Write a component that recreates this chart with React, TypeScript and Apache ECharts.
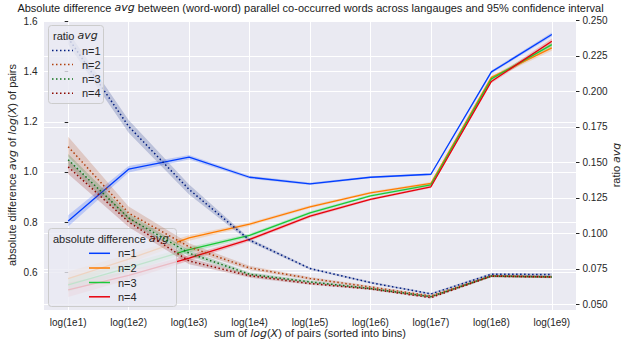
import React, { useEffect, useRef } from 'react';
import * as echarts from 'echarts';

// Bins on the x axis
const categories = [
  'log(1e1)', 'log(1e2)', 'log(1e3)', 'log(1e4)', 'log(1e5)',
  'log(1e6)', 'log(1e7)', 'log(1e8)', 'log(1e9)',
];
const nLabels = ['n=1', 'n=2', 'n=3', 'n=4'];

// Absolute difference avg (left axis) and 95% CI half-widths
const absN1 = [0.805, 1.011, 1.059, 0.979, 0.953, 0.979, 0.991, 1.399, 1.548];
const absN2 = [0.575, 0.653, 0.737, 0.792, 0.861, 0.917, 0.955, 1.377, 1.495];
const absN3 = [0.55, 0.619, 0.69, 0.747, 0.837, 0.905, 0.949, 1.371, 1.508];
const absN4 = [0.53, 0.588, 0.657, 0.731, 0.824, 0.891, 0.941, 1.361, 1.521];
const absCiN1 = [0.022, 0.013, 0.009, 0.006, 0.005, 0.004, 0.004, 0.006, 0.008];
const absCiN2 = [0.028, 0.018, 0.011, 0.007, 0.006, 0.005, 0.005, 0.007, 0.012];
const absCiN3 = [0.028, 0.018, 0.011, 0.007, 0.006, 0.005, 0.005, 0.007, 0.011];
const absCiN4 = [0.028, 0.018, 0.011, 0.007, 0.006, 0.005, 0.005, 0.007, 0.011];

// Ratio avg (right axis) and 95% CI half-widths
const ratioN1 = [0.2375, 0.1753, 0.1309, 0.0952, 0.0752, 0.0653, 0.0573, 0.0712, 0.071];
const ratioN2 = [0.161, 0.1143, 0.0905, 0.0756, 0.0682, 0.0622, 0.0559, 0.07, 0.0694];
const ratioN3 = [0.1518, 0.1108, 0.086, 0.0712, 0.0658, 0.0611, 0.0554, 0.0699, 0.0693];
const ratioN4 = [0.1468, 0.108, 0.0805, 0.0701, 0.0646, 0.0608, 0.0547, 0.0698, 0.0692];
const ratioCiN1 = [0.0045, 0.0045, 0.0035, 0.0013, 0.0008, 0.0007, 0.0006, 0.0008, 0.0008];
const ratioCiN2 = [0.007, 0.0045, 0.0025, 0.0015, 0.001, 0.0008, 0.0007, 0.0008, 0.0009];
const ratioCiN3 = [0.004, 0.003, 0.002, 0.0012, 0.0009, 0.0007, 0.0006, 0.0008, 0.0008];
const ratioCiN4 = [0.005, 0.0035, 0.0022, 0.0013, 0.0009, 0.0007, 0.0006, 0.0008, 0.0008];

// Tick values
const xTicks = [0, 1, 2, 3, 4, 5, 6, 7, 8];
const leftTicks = [0.6, 0.8, 1.0, 1.2, 1.4, 1.6];
const rightTicks = [0.05, 0.075, 0.1, 0.125, 0.15, 0.175, 0.2, 0.225, 0.25];

const solidColors = ['#023EFF', '#FF7C00', '#1AC938', '#E8000B'];
const dottedColors = ['#001C7F', '#B1400D', '#12711C', '#8C0800'];

const FONT = '"Liberation Sans", Arial, sans-serif';
const MATH = '"DejaVu Sans", sans-serif';
const INK = '#262626';
const DOTS = [1.5, 2.5];

function hexToRgba(hex: string, a: number) {
  const n = parseInt(hex.slice(1), 16);
  return `rgba(${(n >> 16) & 255},${(n >> 8) & 255},${n & 255},${a})`;
}

function bandSeries(values: number[], ci: number[], color: string, yAxisIndex: number, z: number) {
  const data = values.map((v, i) => [i, v - ci[i], v + ci[i]]);
  return {
    type: 'custom',
    yAxisIndex,
    z,
    silent: true,
    data,
    encode: { x: 0, y: [1, 2] },
    renderItem: (params: any, api: any) => {
      if (params.dataIndex !== 0) return null;
      const upper = data.map((d) => api.coord([d[0], d[2]]));
      const lower = data.map((d) => api.coord([d[0], d[1]])).reverse();
      return {
        type: 'polygon',
        shape: { points: upper.concat(lower) },
        style: { fill: hexToRgba(color, 0.2), stroke: null },
      };
    },
  };
}

function lineSeries(name: string, values: number[], color: string, yAxisIndex: number, z: number, dotted: boolean) {
  return {
    type: 'line',
    name,
    yAxisIndex,
    z,
    silent: true,
    symbol: 'none',
    data: values.map((v, i) => [i, v]),
    lineStyle: { color, width: dotted ? 1.5 : 1.3, type: dotted ? DOTS : 'solid' },
  };
}

const mathRich = {
  n: { fontFamily: FONT, fontSize: 11, color: INK },
  i: { fontFamily: MATH, fontStyle: 'italic', fontSize: 11, color: INK },
};

function legendBlock(
  x: number, y: number, w: number, h: number, title: string,
  handleX1: number, handleX2: number, textX: number, rowYs: number[],
  colors: string[], dotted: boolean, z: number,
) {
  const els: any[] = [
    {
      type: 'rect', z, silent: true,
      shape: { x, y, width: w, height: h, r: 3 },
      style: { fill: 'rgba(234,234,242,0.8)', stroke: '#cccccc', lineWidth: 1 },
    },
    {
      type: 'text', z: z + 1, silent: true, x: x + 4.5, y: y + 10,
      style: {
        text: title, fontFamily: FONT, fontSize: 11, fill: INK,
        verticalAlign: 'middle', rich: mathRich,
      },
    },
  ];
  rowYs.forEach((ry, k) => {
    els.push({
      type: 'line', z: z + 1, silent: true,
      shape: { x1: handleX1, y1: ry, x2: handleX2, y2: ry },
      style: { stroke: colors[k], lineWidth: 1.5, lineDash: dotted ? DOTS : null },
    });
    els.push({
      type: 'text', z: z + 1, silent: true, x: textX, y: ry,
      style: { text: nLabels[k], fontFamily: FONT, fontSize: 11, fill: INK, verticalAlign: 'middle' },
    });
  });
  return els;
}

export default function App() {
  const ref = useRef<HTMLDivElement>(null);

  useEffect(() => {
    if (!ref.current) return;
    const chart = echarts.init(ref.current, null, { renderer: 'svg' });

    const absVals = [absN1, absN2, absN3, absN4];
    const absCis = [absCiN1, absCiN2, absCiN3, absCiN4];
    const ratioVals = [ratioN1, ratioN2, ratioN3, ratioN4];
    const ratioCis = [ratioCiN1, ratioCiN2, ratioCiN3, ratioCiN4];

    const series: any[] = [];
    absVals.forEach((v, k) => series.push(bandSeries(v, absCis[k], solidColors[k], 0, 2)));
    absVals.forEach((v, k) => series.push(lineSeries(nLabels[k], v, solidColors[k], 0, 3, false)));
    ratioVals.forEach((v, k) => series.push(bandSeries(v, ratioCis[k], dottedColors[k], 1, 5)));
    ratioVals.forEach((v, k) => series.push(lineSeries('ratio ' + nLabels[k], v, dottedColors[k], 1, 6, true)));

    const option: any = {
      animation: false,
      backgroundColor: '#ffffff',
      textStyle: { fontFamily: FONT },
      title: {
        text: 'Absolute difference {i|avg} between (word-word) parallel co-occurred words across langauges and 95% confidence interval',
        left: 'center',
        top: 2,
        padding: 0,
        textStyle: {
          fontFamily: FONT, fontSize: 11, fontWeight: 'normal', color: '#1a1a1a',
          rich: {
            i: { fontFamily: MATH, fontStyle: 'italic', fontSize: 11, color: '#1a1a1a' },
          },
        },
      },
      grid: {
        left: 44, right: 45, top: 20, bottom: 29,
        show: true, backgroundColor: '#EAEAF2', borderWidth: 0,
        containLabel: false, outerBoundsMode: 'none',
      },
      xAxis: {
        type: 'value',
        min: -0.4,
        max: 8.4,
        axisLine: { show: false },
        axisTick: { show: false, customValues: xTicks },
        axisLabel: {
          customValues: xTicks,
          formatter: (v: number) => categories[Math.round(v)] ?? '',
          color: INK, fontSize: 10, fontFamily: FONT, margin: 7,
        },
        splitLine: { show: true, lineStyle: { color: '#ffffff', width: 1 } },
        name: 'sum of {i|log}({i|X}) of pairs (sorted into bins)',
        nameLocation: 'middle',
        nameGap: 17,
        nameMoveOverlap: false,
        nameTextStyle: { fontFamily: FONT, fontSize: 11, color: INK, lineHeight: 12, rich: mathRich },
      },
      yAxis: [
        {
          type: 'value',
          position: 'left',
          min: 0.4497,
          max: 1.606,
          axisLine: { show: false },
          axisTick: { show: true, length: 3.5, customValues: leftTicks, lineStyle: { color: INK, width: 1 } },
          axisLabel: {
            customValues: leftTicks,
            formatter: (v: number) => v.toFixed(1),
            color: INK, fontSize: 10, fontFamily: FONT, margin: 6.5,
          },
          splitLine: { show: true, lineStyle: { color: '#ffffff', width: 1 } },
          name: 'absolute difference {i|avg} of {i|log}({i|X}) of pairs',
          nameLocation: 'middle',
          nameRotate: 90,
          nameGap: 26,
          nameMoveOverlap: false,
          nameTextStyle: { fontFamily: FONT, fontSize: 11, color: INK, lineHeight: 12, rich: mathRich },
        },
        {
          type: 'value',
          position: 'right',
          min: 0.046,
          max: 0.2502,
          axisLine: { show: false },
          axisTick: { show: true, length: 3.5, customValues: rightTicks, lineStyle: { color: INK, width: 1 } },
          axisLabel: {
            customValues: rightTicks,
            formatter: (v: number) => v.toFixed(3),
            color: INK, fontSize: 10, fontFamily: FONT, margin: 6.5,
          },
          splitLine: { show: true, lineStyle: { color: '#ffffff', width: 1 } },
          name: 'ratio {i|avg}',
          nameLocation: 'middle',
          nameRotate: 90,
          nameGap: 34,
          nameMoveOverlap: false,
          nameTextStyle: { fontFamily: FONT, fontSize: 11, color: INK, lineHeight: 12, rich: mathRich },
        },
      ],
      series,
      graphic: {
        elements: [
          ...legendBlock(48.5, 228.5, 128, 78, 'absolute difference {i|avg}',
            89, 110, 118, [253.3, 268, 282.5, 296.8], solidColors, false, 4),
          ...legendBlock(48.5, 25.5, 55, 78, 'ratio {i|avg}',
            52, 73, 82, [50.5, 64.5, 79, 93.3], dottedColors, true, 8),
        ],
      },
    };

    chart.setOption(option);
    return () => chart.dispose();
  }, []);

  return (
    <div
      ref={ref}
      style={{ position: 'fixed', left: 0, top: 0, width: 621, height: 339, background: '#fff' }}
    />
  );
}
